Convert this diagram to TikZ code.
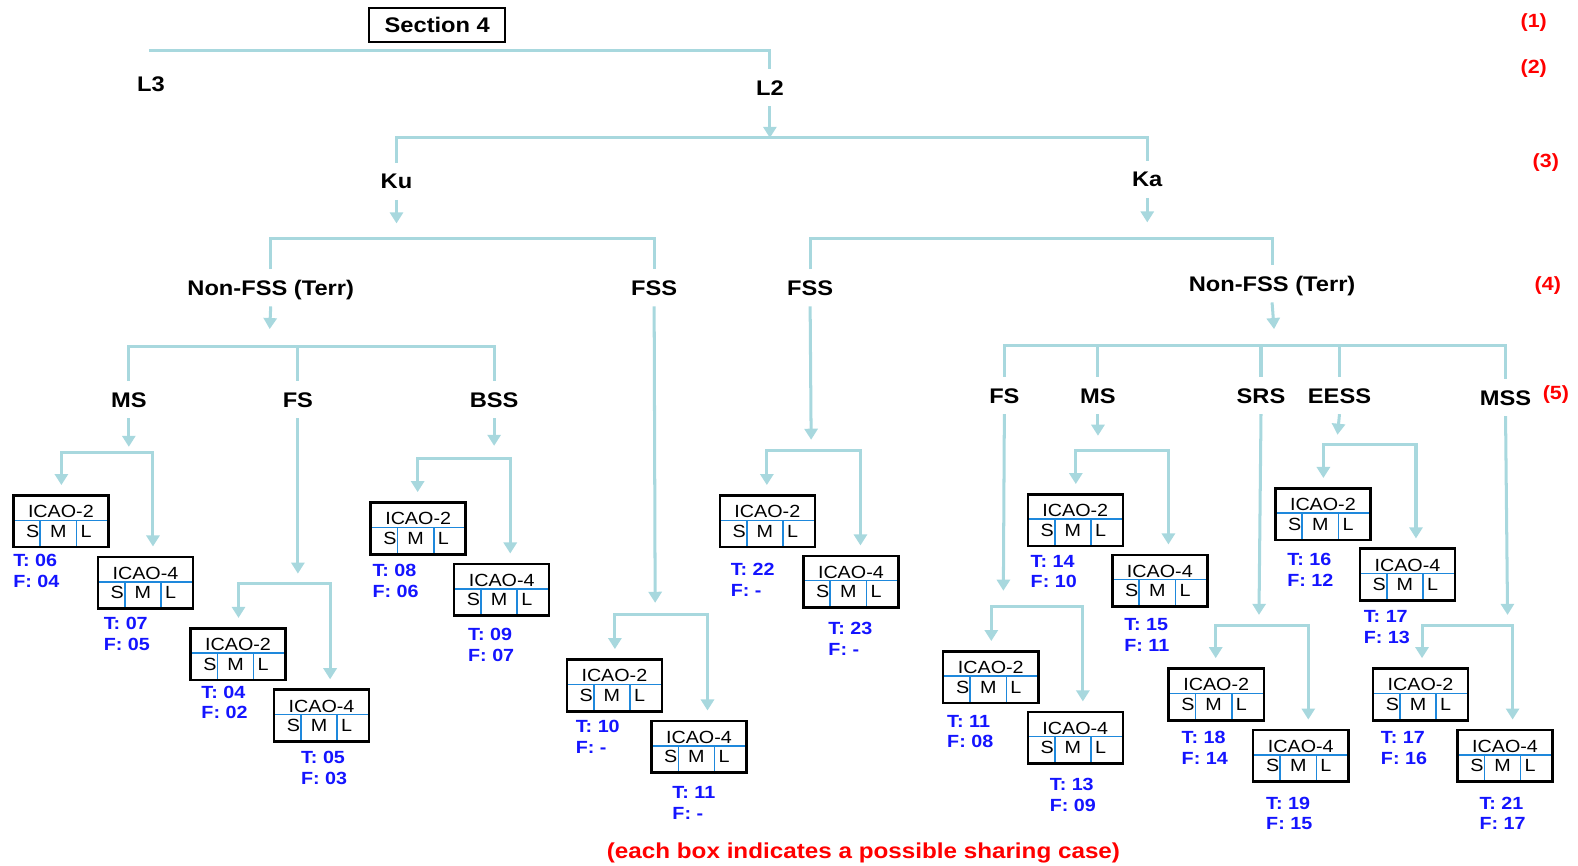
\documentclass[tikz,border=0pt]{standalone}
\usepackage{fontspec}
\setmainfont{Liberation Sans}[FakeStretch=1.12]
\usetikzlibrary{arrows.meta}
\definecolor{conncol}{RGB}{168,216,222}
\definecolor{divcol}{RGB}{30,136,220}
\definecolor{tfblue}{RGB}{20,20,255}
\definecolor{numred}{RGB}{255,0,0}
\tikzset{
  conn/.style={draw=conncol, line width=3pt, line join=miter},
  arr/.style={conn, -{Triangle[width=13pt,length=11pt]}},
  bothtips/.style={conn, {Triangle[width=13pt,length=11pt]}-{Triangle[width=13pt,length=11pt]}, shorten <=9pt, shorten >=9pt},
  lbl/.style={font=\bfseries\fontsize{21}{21}\selectfont, inner sep=0pt, text height=15pt, text depth=0pt, outer ysep=11pt},
  numlbl/.style={font=\bfseries\fontsize{19}{19}\selectfont, text=numred, inner sep=0pt},
  icaobox/.style={draw=black, line width=2.5pt, minimum width=94.5pt, minimum height=51.5pt, inner sep=0pt},
  divline/.style={draw=divcol, line width=1.6pt},
  boxtxt/.style={anchor=base, inner sep=0pt, font=\fontsize{17.5}{17.5}\selectfont},
  tftxt/.style={anchor=north west, align=left, inner sep=0pt, text=tfblue, font=\bfseries\fontsize{17.5}{20.5}\selectfont},
}
\newcommand{\icao}[4]{%
  \draw[divline] ({#2+1.5},{#3+26}) -- ({#2+95.5},{#3+26});
  \draw[divline] ({#2+28},{#3+26}) -- ({#2+28},{#3+52.5});
  \draw[divline] ({#2+64},{#3+26}) -- ({#2+64},{#3+52.5});
  \node[icaobox] (#1) at ({#2+48.5},{#3+27}) {};
  \node[boxtxt] (#1-t) at ({#2+48.5},{#3+23.5}) {ICAO-#4};
  \node[boxtxt] (#1-s) at ({#2+20.5},{#3+43}) {S};
  \node[boxtxt] (#1-m) at ({#2+46},{#3+43}) {M};
  \node[boxtxt] (#1-l) at ({#2+73.5},{#3+43}) {L};
}
\newcommand{\tflab}[5]{\node[tftxt] (#1-tf) at (#2,{#3-6.5}) {T: #4\\F: #5};}
\newcommand{\bracketto}[5]{%
  \coordinate (#1-j) at (#3,#5);
  \coordinate (#2-j) at (#4,#5);
  \draw[bothtips] (#1.north -| #1-j) -- (#1-j) -- (#2-j) -- (#2-j |- #2.north);
}
\begin{document}
\begin{tikzpicture}[x=1pt,y=-1pt]
\useasboundingbox (0,0) rectangle (1568,860);

% title
\node[draw=black, line width=1.8pt, minimum width=135pt, minimum height=34pt, inner sep=0pt,
      font=\bfseries\fontsize{21}{21}\selectfont] (sec) at (434.5,25) {Section 4};

% level numbers
\node[numlbl] (n1) at (1524,22) {(1)};
\node[numlbl] (n2) at (1524,68) {(2)};
\node[numlbl] (n3) at (1536,162) {(3)};
\node[numlbl] (n4) at (1538,284) {(4)};
\node[numlbl] (n5) at (1546,392) {(5)};

% labels
\node[lbl] (L3) at (150,83) {L3};
\node[lbl] (L2) at (765,87) {L2};
\node[lbl] (Ku) at (394,180) {Ku};
\node[lbl] (Ka) at (1140,178) {Ka};
\node[lbl] (nfK) at (269,286) {Non-FSS (Terr)};
\node[lbl] (fssK) at (650,286) {FSS};
\node[lbl] (fssA) at (805,286) {FSS};
\node[lbl] (nfA) at (1264,282) {Non-FSS (Terr)};
\node[lbl] (msK) at (128,397) {MS};
\node[lbl] (fsK) at (296,397) {FS};
\node[lbl] (bss) at (491,397) {BSS};
\node[lbl] (fsA) at (998,393) {FS};
\node[lbl] (msA) at (1091,393) {MS};
\node[lbl] (srs) at (1253,393) {SRS};
\node[lbl] (eess) at (1331,393) {EESS};
\node[lbl] (mss) at (1496,395) {MSS};

% coordinates
\coordinate (top) at (148,50);
\coordinate (h3) at (766,137);
\coordinate (h4K) at (394,237);
\coordinate (h4A) at (1140,237);
\coordinate (h5K) at (268,344);
\coordinate (h5A) at (1266,343);

% top connectors
\draw[conn] (top) -- (top -| L2.north) -- (L2.north);
\draw[arr] (L2.south) -- (L2.south |- h3);
\draw[conn] (Ku.north) -- (Ku.north |- h3) -- (Ka.north |- h3) -- (Ka.north);
\coordinate (KuTip) at (394,222);
\coordinate (KaTip) at (1140,221);
\draw[arr] (Ku.south) -- (KuTip);
\draw[arr] (Ka.south) -- (KaTip);
\draw[conn] (nfK.north) -- (nfK.north |- h4K) -- (fssK.north |- h4K) -- (fssK.north);
\draw[conn] (fssA.north) -- (fssA.north |- h4A) -- (nfA.north |- h4A) -- (nfA.north);
\coordinate (nfKTip) at (268,327);
\coordinate (nfATip) at (1266,327);
\draw[arr] (nfK.south) -- (nfKTip);
\draw[arr] (nfA.south) -- (nfATip);
\draw[conn] (msK.north) -- (msK.north |- h5K) -- (bss.north |- h5K) -- (bss.north);
\draw[conn] (fsK.north) -- (fsK.north |- h5K);
\draw[conn] (fsA.north) -- (fsA.north |- h5A) -- (mss.north |- h5A) -- (mss.north);
\draw[conn] (msA.north) -- (msA.north |- h5A);
\draw[conn] (srs.north) -- (srs.north |- h5A);
\draw[conn] (eess.north) -- (eess.north |- h5A);

% incoming arrows to the box groups
\coordinate (msKTip) at (128,444);
\coordinate (fsKTip) at (296,570);
\coordinate (bssTip) at (491,443);
\coordinate (fssKTip) at (651,599);
\coordinate (fssATip) at (806,437);
\coordinate (fsATip) at (997,587);
\coordinate (msATip) at (1091,433);
\coordinate (srsTip) at (1251,611);
\coordinate (eessTip) at (1329,432);
\coordinate (mssTip) at (1498,611);
\draw[arr] (msK.south) -- (msKTip);
\draw[arr] (fsK.south) -- (fsKTip);
\draw[arr] (bss.south) -- (bssTip);
\draw[arr] (fssK.south) -- (fssKTip);
\draw[arr] (fssA.south) -- (fssATip);
\draw[arr] (fsA.south) -- (fsATip);
\draw[arr] (msA.south) -- (msATip);
\draw[arr] (srs.south) -- (srsTip);
\draw[arr] (eess.south) -- (eessTip);
\draw[arr] (mss.south) -- (mssTip);

% group A: MS (Ku)
\icao{a1}{12}{491}{2} \icao{a2}{96}{552}{4}
\tflab{a1}{13}{557}{06}{04} \tflab{a2}{103}{620}{07}{05}
\bracketto{a1}{a2}{61}{152}{450}
% group B: FS (Ku)
\icao{b1}{188}{623}{2} \icao{b2}{271}{684}{4}
\tflab{b1}{200}{688}{04}{02} \tflab{b2}{299}{753}{05}{03}
\bracketto{b1}{b2}{237}{328}{580}
% group C: BSS
\icao{c1}{367}{498}{2} \icao{c2}{450}{559}{4}
\tflab{c1}{370}{567}{08}{06} \tflab{c2}{465}{631}{09}{07}
\bracketto{c1}{c2}{415}{507}{456}
% group D: FSS (Ku)
\icao{d1}{562}{654}{2} \icao{d2}{646}{715}{4}
\tflab{d1}{572}{722}{10}{-} \tflab{d2}{668}{788}{11}{-}
\bracketto{d1}{d2}{611}{703}{611}
% group E: FSS (Ka)
\icao{e1}{714}{491}{2} \icao{e2}{797}{551}{4}
\tflab{e1}{726}{566}{22}{-} \tflab{e2}{823}{625}{23}{-}
\bracketto{e1}{e2}{762}{855}{448}
% group F: FS (Ka)
\icao{f1}{936}{646}{2} \icao{f2}{1020}{706}{4}
\tflab{f1}{941}{717}{11}{08} \tflab{f2}{1043}{780}{13}{09}
\bracketto{f1}{f2}{985}{1076}{603}
% group G: MS (Ka)
\icao{g1}{1020}{490}{2} \icao{g2}{1104}{550}{4}
\tflab{g1}{1024}{558}{14}{10} \tflab{g2}{1117}{621}{15}{11}
\bracketto{g1}{g2}{1069}{1161}{448}
% group H: SRS
\icao{h1}{1160}{663}{2} \icao{h2}{1244}{724}{4}
\tflab{h1}{1174}{733}{18}{14} \tflab{h2}{1258}{798}{19}{15}
\bracketto{h1}{h2}{1208}{1300}{622}
% group I: EESS
\icao{i1}{1266}{484}{2} \icao{i2}{1350}{544}{4}
\tflab{i1}{1279}{556}{16}{12} \tflab{i2}{1355}{613}{17}{13}
\bracketto{i1}{i2}{1315}{1407}{442}
% group J: MSS
\icao{j1}{1363}{663}{2} \icao{j2}{1447}{724}{4}
\tflab{j1}{1372}{733}{17}{16} \tflab{j2}{1470}{798}{21}{17}
\bracketto{j1}{j2}{1413}{1503}{622}

% footnote
\node[inner sep=0pt, text=numred, font=\bfseries\fontsize{21.5}{21.5}\selectfont] (note) at (858,848) {(each box indicates a possible sharing case)};
\end{tikzpicture}
\end{document}
